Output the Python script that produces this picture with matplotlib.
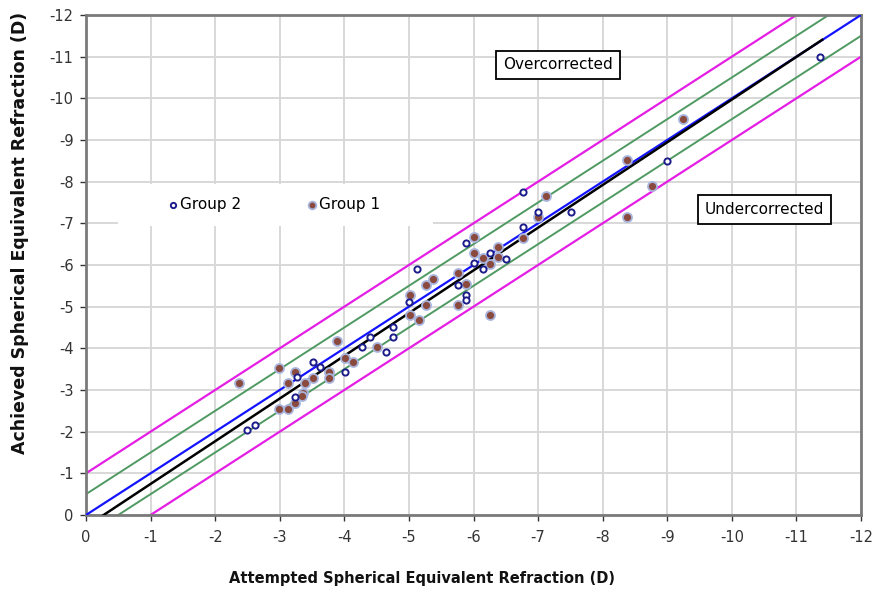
import numpy as np
import matplotlib
matplotlib.use('Agg')
import matplotlib.pyplot as plt
from matplotlib.ticker import FuncFormatter
from matplotlib.patches import Rectangle

plt.rcParams['axes.unicode_minus'] = False

# ----- data -----
g1_attempted = [-2.37, -2.99, -2.99, -3.12, -3.24, -3.36, -3.34, -3.12, -3.24, -3.39,
                -3.52, -3.77, -3.77, -3.88, -4.01, -4.14, -4.51, -5.01, -5.02, -5.15,
                -5.26, -5.38, -5.26, -5.76, -5.89, -5.76, -6.26, -6.01, -6.14, -6.26,
                -6.01, -6.38, -6.38, -6.76, -7.00, -7.13, -8.37, -8.76, -8.37, -9.25]
g1_achieved = [-3.17, -3.53, -2.54, -2.54, -2.68, -2.92, -2.86, -3.17, -3.44, -3.16,
               -3.28, -3.44, -3.28, -4.17, -3.76, -3.67, -4.04, -5.28, -4.80, -4.68,
               -5.52, -5.66, -5.04, -5.80, -5.55, -5.04, -4.79, -6.28, -6.16, -6.03,
               -6.66, -6.42, -6.18, -6.64, -7.16, -7.66, -8.51, -7.90, -7.15, -9.50]

g2_attempted = [-2.49, -2.62, -3.24, -3.26, -3.52, -3.63, -4.01, -4.27, -4.39, -4.64,
                -4.76, -4.76, -5.00, -5.13, -5.76, -5.89, -5.89, -5.88, -6.01, -6.14,
                -6.26, -6.51, -6.76, -6.76, -7.00, -7.51, -8.99, -11.37]
g2_achieved = [-2.04, -2.17, -2.84, -3.32, -3.67, -3.56, -3.42, -4.02, -4.28, -3.91,
               -4.52, -4.28, -5.12, -5.90, -5.52, -5.28, -5.16, -6.52, -6.04, -5.90,
               -6.28, -6.14, -6.90, -7.76, -7.28, -7.26, -8.50, -10.98]

# regression line (black) and its x-range
fit_slope = 1.025
fit_intercept = 0.28
fit_x = [-0.27, -11.4]

band_inner = 0.5   # green  (+/- 0.5 D)
band_outer = 1.0   # magenta (+/- 1.0 D)
axis_ticks = list(range(0, -13, -1))

fig = plt.figure(figsize=(8.75, 5.97), dpi=100)
ax = fig.add_axes([0.0983, 0.1374, 0.8857, 0.8375])

xs = np.array([0, -13.0])
ax.plot(xs, xs - band_outer, color='#e41ee4', lw=1.6, zorder=2)
ax.plot(xs, xs + band_outer, color='#e41ee4', lw=1.6, zorder=2)
ax.plot(xs, xs - band_inner, color='#4f9a62', lw=1.4, zorder=2)
ax.plot(xs, xs + band_inner, color='#4f9a62', lw=1.4, zorder=2)
ax.plot(xs, xs, color='#1414ff', lw=1.6, zorder=3)
fx = np.array(fit_x)
ax.plot(fx, fit_slope * fx + fit_intercept, color='black', lw=1.8, zorder=3)

ax.scatter(g1_attempted, g1_achieved, s=42, color='#8b4a3e', edgecolors='#a8b4dc',
           linewidths=1.3, zorder=4, label='Group 1')
ax.scatter(g2_attempted, g2_achieved, s=20, facecolors='white', edgecolors='#1c1c8a',
           linewidths=1.4, zorder=5, label='Group 2')

ax.set_xlim(0, -12)
ax.set_ylim(0, -12)
ax.set_xticks(axis_ticks)
ax.set_yticks(axis_ticks)
fmt = FuncFormatter(lambda v, p: f'{int(round(v))}')
ax.xaxis.set_major_formatter(fmt)
ax.yaxis.set_major_formatter(fmt)
ax.tick_params(labelsize=10.5, colors='#333333', length=4, width=1, pad=7)
ax.tick_params(axis='y', pad=5)
ax.grid(True, color='#d8d8d8', lw=1.4)
ax.set_axisbelow(True)
for sp in ax.spines.values():
    sp.set_color('#7a7a7a')
    sp.set_linewidth(2)

# white area behind the legend (covers the grid like in the original)
ax.add_patch(Rectangle((0.041, 0.578), 0.407, 0.084, transform=ax.transAxes,
                       facecolor='white', edgecolor='none', zorder=1))

# legend, order: Group 2 then Group 1
h, l = ax.get_legend_handles_labels()
leg = ax.legend([h[1], h[0]], [l[1], l[0]], ncol=2, loc='center',
                bbox_to_anchor=(0.242, 0.62), frameon=False, fontsize=11,
                handletextpad=0.1, columnspacing=4.2, markerscale=0.85,
                handlelength=0.8)

box = dict(boxstyle='square,pad=0.45', fc='white', ec='black', lw=1.3)
ax.text(-7.31, -10.8, 'Overcorrected', ha='center', va='center', fontsize=11,
        bbox=box, zorder=6)
ax.text(-10.51, -7.34, 'Undercorrected', ha='center', va='center', fontsize=11,
        bbox=box, zorder=6)

fig.text(422 / 875, 1 - 578 / 597, 'Attempted Spherical Equivalent Refraction (D)',
         ha='center', va='center', fontsize=10.5, fontweight='bold', color='#111111')
fig.text(20 / 875, 1 - 233 / 597, 'Achieved Spherical Equivalent Refraction (D)',
         ha='center', va='center', rotation=90, fontsize=12.5, fontweight='bold',
         color='#111111')

fig.savefig('out.png', dpi=100)
